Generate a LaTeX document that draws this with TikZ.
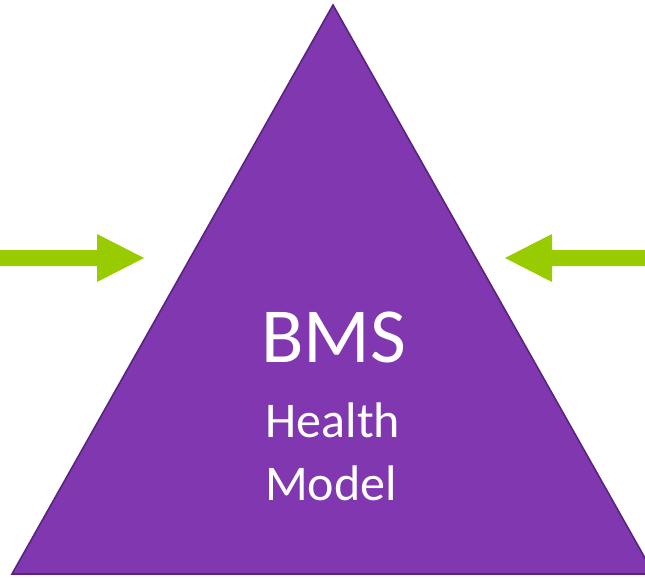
\documentclass[tikz,border=0pt]{standalone}
\usepackage{fontspec}
\setmainfont{Carlito}
\definecolor{trifill}{RGB}{128,55,176}
\definecolor{triline}{RGB}{88,36,128}
\definecolor{arrgreen}{RGB}{153,204,0}
\begin{document}
\begin{tikzpicture}[x=1pt,y=-1pt,
  tri/.style={fill=trifill,draw=triline,line width=1.6pt,line join=miter},
  arr/.style={fill=arrgreen,draw=none},
  lbl/.style={text=white,inner sep=0pt,anchor=base}]
\useasboundingbox (0,0) rectangle (645,578);
\clip (0,0) rectangle (645,578);
\draw[tri] (333,5) -- (12,574) -- (654,574) -- cycle;
\fill[arr] (-2,250) -- (97,250) -- (97,234) -- (144,258) -- (97,282) -- (97,266) -- (-2,266) -- cycle;
\fill[arr] (647,250) -- (552,250) -- (552,234) -- (505,258) -- (552,282) -- (552,266) -- (647,266) -- cycle;
\node[lbl,font=\fontsize{78}{78}\selectfont] (bms) at (334,362) {BMS};
\node[lbl,font=\fontsize{50}{50}\selectfont] (health) at (333,437) {Health};
\node[lbl,font=\fontsize{50}{50}\selectfont] (model) at (331,500) {Model};
\end{tikzpicture}
\end{document}
